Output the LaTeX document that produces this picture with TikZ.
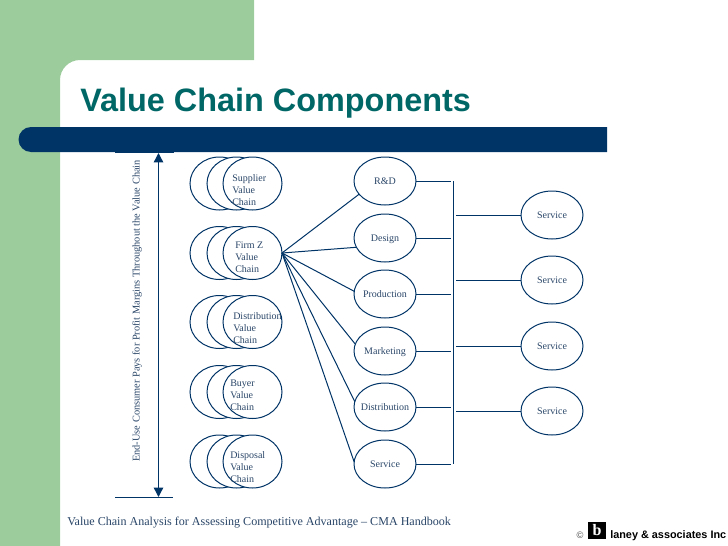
\documentclass[tikz,border=0pt]{standalone}
\usepackage{fontspec}
\usepackage{xcolor}
\setmainfont{Liberation Serif}
\newfontfamily\titlefont{Liberation Sans}
\usetikzlibrary{shapes.geometric, arrows.meta, positioning, calc}
\definecolor{SlideGreen}{HTML}{9CCC9C}
\definecolor{SlideNavy}{HTML}{003366}
\definecolor{SlideTeal}{HTML}{006666}
\definecolor{SlideInk}{HTML}{2A4668}
\tikzset{
    stackpart/.style={draw=SlideNavy, fill=white, ellipse, minimum width=44.25pt, minimum height=39.75pt, inner sep=0pt, outer sep=0pt, line width=0.75pt},
    stacklabel/.style={anchor=west, align=left, inner sep=0pt, text=SlideInk, font=\fontsize{7.5}{9}\selectfont},
    linkpart/.style={draw=SlideNavy, ellipse, minimum width=46.5pt, minimum height=36pt, inner ysep=0pt, inner xsep=-10pt, outer sep=0pt, line width=0.75pt, text=SlideInk, text height=5.5pt, text depth=0.5pt, font=\fontsize{7.5}{9}\selectfont},
    wire/.style={SlideNavy, line width=0.75pt},
}

\begin{document}
\begin{tikzpicture}[x=0.75pt, y=-0.75pt]
    \useasboundingbox (0,0) rectangle (728,546);

    % Slide background
    \fill[SlideGreen] (0,0) -- (254,0) -- (254,60) -- (80,60) arc[start angle=90, end angle=180, x radius=20, y radius=-20] -- (60,546) -- (0,546) -- cycle;
    \node[anchor=base west, inner sep=0pt, text=SlideTeal, font=\titlefont\bfseries\fontsize{24.3}{28}\selectfont] (title) at (80,111) {Value Chain Components};

    % Arrow with its two limits
    \coordinate (arrowtop) at (158.5,153);
    \coordinate (arrowbot) at (158.5,497);
    \draw[wire] (115,152.5) -- (174,152.5);
    \draw[wire] (115,497) -- (173,497);
    \draw[wire, line width=1pt, {Triangle[length=7pt, width=7pt]}-{Triangle[length=7pt, width=7pt]}] (arrowtop) -- (arrowbot);
    \node[rotate=90, anchor=west, inner sep=0pt, text=SlideInk, font=\fontsize{7.77}{10}\selectfont] (payslabel) at (137,462) {End-Use Consumer Pays for Profit Margins Throughout the Value Chain};
    \fill[SlideNavy] (607,127) -- (607,152) -- (31,152) arc[start angle=90, end angle=270, radius=12.5] -- cycle;

    % Stacks of three ellipses
    \foreach \stackname/\y in {supplier/183.5, firm/253, distrib/322, buyer/392, disposal/461.5} {
        \node[stackpart] (\stackname a) at (219.5,\y) {};
        \node[stackpart] (\stackname b) at (236.5,\y) {};
        \node[stackpart] (\stackname c) at (252.5,\y) {};
    }
    \node[stacklabel] (supplierlabel) at (232,190) {Supplier\\Value\\Chain};
    \node[stacklabel] (firmlabel) at (235,257) {Firm Z\\Value\\Chain};
    \node[stacklabel] (distriblabel) at (233,328) {Distribution\\Value\\Chain};
    \node[stacklabel] (buyerlabel) at (230,395) {Buyer\\Value\\Chain};
    \node[stacklabel] (disposallabel) at (230,467) {Disposal\\Value\\Chain};

    % Firm activities
    \node[linkpart] (rd) at (385,181) {R\&D};
    \node[linkpart] (design) at (385,238) {Design};
    \node[linkpart] (production) at (385,294) {Production};
    \node[linkpart] (marketing) at (385,351) {Marketing};
    \node[linkpart] (distribution) at (385,407) {Distribution};
    \node[linkpart] (service) at (385,464) {Service};

    % Service column
    \node[linkpart] (serviceA) at (552,215) {Service};
    \node[linkpart] (serviceB) at (552,280) {Service};
    \node[linkpart] (serviceC) at (552,346) {Service};
    \node[linkpart] (serviceD) at (552,411) {Service};

    % Fan out of the firm stack
    \foreach \target/\ang in {rd/207, design/198, production/175, marketing/167, distribution/170, service/176} {
        \draw[wire] (firmc.east) -- (\target.\ang);
    }

    % Bus between the two columns
    \coordinate (bustop) at (453,181);
    \coordinate (busbot) at (453,464);
    \coordinate (busleft) at (451,0);
    \coordinate (busright) at (455.5,0);
    \draw[wire] (bustop) -- (busbot);
    \foreach \target in {rd, design, production, marketing, distribution, service} {
        \draw[wire] (\target.east) -- (\target.east -| busleft);
    }
    \foreach \target in {serviceA, serviceB, serviceC, serviceD} {
        \draw[wire] (\target.west) -- (\target.west -| busright);
    }

    % Footer
    \node[anchor=base west, inner sep=0pt, text=SlideInk, font=\fontsize{9.05}{11}\selectfont] (source) at (67,525) {Value Chain Analysis for Assessing Competitive Advantage -- CMA Handbook};
    \node[anchor=base, inner sep=0pt, text=black!70, font=\titlefont\fontsize{7}{8}\selectfont] (copyright) at (580,538) {©};
    \node[anchor=center, fill=black, text=white, inner sep=0pt, minimum width=13.5pt, minimum height=12.5pt, font=\bfseries\fontsize{12}{12}\selectfont] (logo) at (597,530.5) {b};
    \node[anchor=base west, inner sep=0pt, font=\titlefont\bfseries\fontsize{8.15}{10}\selectfont] (firmname) at (610,538) {laney \& associates Inc};
\end{tikzpicture}
\end{document}
